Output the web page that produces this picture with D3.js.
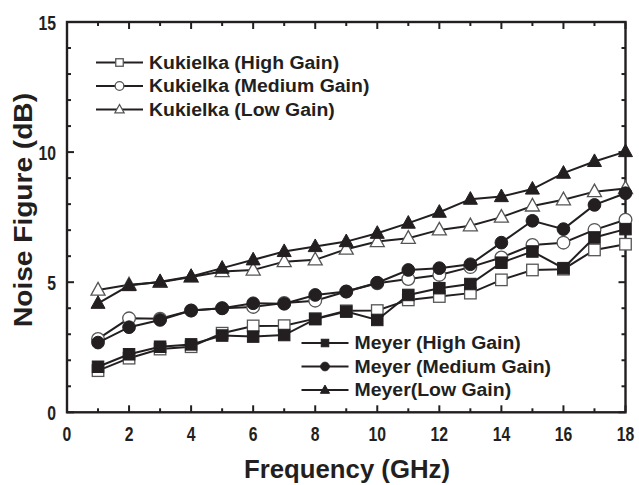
<!DOCTYPE html>
<html>
<head>
<meta charset="utf-8">
<script src="https://cdn.jsdelivr.net/npm/d3@7"></script>
<style>
  body { margin: 0; background: #fff; }
  text { font-family: "Liberation Sans", Arial, sans-serif; font-weight: bold; fill: #231f20; }
</style>
</head>
<body>
<svg id="chart" width="639" height="485"></svg>
<script>
const freq = [1, 2, 3, 4, 5, 6, 7, 8, 9, 10, 11, 12, 13, 14, 15, 16, 17, 18]
const kukHigh = [1.6, 2.08, 2.43, 2.52, 3.04, 3.32, 3.33, 3.6, 3.9, 3.91, 4.32, 4.45, 4.58, 5.09, 5.47, 5.5, 6.24, 6.46]
const kukMed = [2.82, 3.61, 3.6, 3.91, 4.0, 4.05, 4.2, 4.29, 4.64, 4.96, 5.12, 5.28, 5.58, 5.95, 6.43, 6.52, 7.01, 7.4]
const kukLow = [4.7, 4.9, 5.0, 5.2, 5.41, 5.47, 5.79, 5.86, 6.27, 6.56, 6.69, 7.01, 7.17, 7.5, 7.93, 8.17, 8.48, 8.6]
const meyHigh = [1.75, 2.23, 2.52, 2.61, 2.95, 2.91, 2.97, 3.58, 3.87, 3.55, 4.51, 4.77, 4.93, 5.75, 6.18, 5.54, 6.72, 7.04]
const meyMed = [2.68, 3.27, 3.55, 3.91, 4.0, 4.19, 4.17, 4.51, 4.64, 4.98, 5.47, 5.54, 5.69, 6.52, 7.36, 7.04, 7.97, 8.42]
const meyLow = [4.19, 4.87, 5.02, 5.22, 5.54, 5.86, 6.18, 6.37, 6.56, 6.88, 7.27, 7.69, 8.19, 8.29, 8.58, 9.19, 9.64, 10.02]

const xTicks = [0, 2, 4, 6, 8, 10, 12, 14, 16, 18]
const yTicks = [0, 5, 10, 15]

const series = [
  {name: "Kukielka (High Gain)", values: kukHigh, shape: "square", filled: false},
  {name: "Kukielka (Medium Gain)", values: kukMed, shape: "circle", filled: false},
  {name: "Kukielka (Low Gain)", values: kukLow, shape: "triangle", filled: false},
  {name: "Meyer (High Gain)", values: meyHigh, shape: "square", filled: true},
  {name: "Meyer (Medium Gain)", values: meyMed, shape: "circle", filled: true},
  {name: "Meyer(Low Gain)", values: meyLow, shape: "triangle", filled: true}
]

const svg = d3.select("#chart")
const padL = 67, padR = 625.5, padT = 22, padB = 412.3
const x = d3.scaleLinear().domain([0, 18]).range([padL, padR])
const y = d3.scaleLinear().domain([0, 15]).range([padB, padT])
const ink = "#231f20"

// stretch or squeeze text horizontally (the original uses a condensed face)
function squeeze(sel, f) {
  sel.each(function() {
    const w = this.getComputedTextLength()
    d3.select(this).attr("textLength", w * f).attr("lengthAdjust", "spacingAndGlyphs")
  })
}

// inward ticks on all four sides
function tickLen(v, step) { return v % step === 0 ? 7 : 4 }
const g = svg.append("g")
d3.range(0, 19).forEach(v => {
  const L = tickLen(v, 2)
  g.append("line").attr("x1", x(v)).attr("x2", x(v)).attr("y1", padB).attr("y2", padB - L)
    .attr("stroke", ink).attr("stroke-width", 2)
  g.append("line").attr("x1", x(v)).attr("x2", x(v)).attr("y1", padT).attr("y2", padT + L)
    .attr("stroke", ink).attr("stroke-width", 2)
})
d3.range(0, 16).forEach(v => {
  const L = tickLen(v, 5)
  g.append("line").attr("y1", y(v)).attr("y2", y(v)).attr("x1", padL).attr("x2", padL + L)
    .attr("stroke", ink).attr("stroke-width", 2)
  g.append("line").attr("y1", y(v)).attr("y2", y(v)).attr("x1", padR).attr("x2", padR - L)
    .attr("stroke", ink).attr("stroke-width", 2)
})
g.append("rect").attr("x", padL).attr("y", padT).attr("width", padR - padL).attr("height", padB - padT)
  .attr("fill", "none").attr("stroke", ink).attr("stroke-width", 2.4)

// tick labels
svg.selectAll(".xl").data(xTicks).enter().append("text")
  .attr("x", d => x(d)).attr("y", 440.5).attr("text-anchor", "middle")
  .style("font-size", "21px").text(d => d)
  .call(squeeze, 0.75)
svg.selectAll(".yl").data(yTicks).enter().append("text")
  .attr("x", 56).attr("y", d => y(d) + 7.5).attr("text-anchor", "end")
  .style("font-size", "21px").text(d => d)
  .call(squeeze, 0.75)

// axis titles
svg.append("text").attr("x", 347).attr("y", 478).attr("text-anchor", "middle")
  .style("font-size", "26px").attr("textLength", 206).attr("lengthAdjust", "spacingAndGlyphs")
  .text("Frequency (GHz)")
svg.append("text").attr("transform", "translate(32,210) rotate(-90)").attr("text-anchor", "middle")
  .style("font-size", "26px").attr("textLength", 234).attr("lengthAdjust", "spacingAndGlyphs")
  .text("Noise Figure (dB)")

function marker(sel, s, cx, cy, size) {
  const fill = s.filled ? ink : "#fff"
  const stroke = s.filled ? ink : "#555"
  const sw = s.filled ? 1 : 1.3
  if (s.shape === "square") {
    sel.append("rect").attr("x", cx - size / 2).attr("y", cy - size / 2)
      .attr("width", size).attr("height", size)
      .attr("fill", fill).attr("stroke", stroke).attr("stroke-width", sw)
  } else if (s.shape === "circle") {
    sel.append("circle").attr("cx", cx).attr("cy", cy).attr("r", size / 2 + 0.6)
      .attr("fill", fill).attr("stroke", stroke).attr("stroke-width", sw)
  } else {
    const w = size * 1.22, h = size * 1.1
    sel.append("path")
      .attr("d", `M${cx},${cy - h * 0.6}L${cx + w / 2},${cy + h * 0.4}L${cx - w / 2},${cy + h * 0.4}Z`)
      .attr("fill", fill).attr("stroke", stroke).attr("stroke-width", sw)
  }
}

const line = d3.line().x(d => x(d[0])).y(d => y(d[1]))
series.forEach(s => {
  const pts = freq.map((f, i) => [f, s.values[i]])
  const sg = svg.append("g")
  sg.append("path").attr("d", line(pts)).attr("fill", "none")
    .attr("stroke", ink).attr("stroke-width", 2)
  pts.forEach(p => marker(sg, s, x(p[0]), y(p[1]), 11.5))
})

// legends
function legend(list, lx, ly) {
  list.forEach((s, i) => {
    const cy = ly + i * 23.5
    const lg = svg.append("g")
    lg.append("line").attr("x1", lx).attr("x2", lx + 47).attr("y1", cy).attr("y2", cy)
      .attr("stroke", ink).attr("stroke-width", 2)
    marker(lg, s, lx + 23.5, cy, 7.5)
    lg.append("text").attr("x", lx + 53).attr("y", cy + 6.3)
      .style("font-size", "18px").text(s.name)
      .call(squeeze, 1.08)
  })
}
legend(series.slice(0, 3), 96, 62.5)
legend(series.slice(3), 301.5, 343)
</script>
</body>
</html>
